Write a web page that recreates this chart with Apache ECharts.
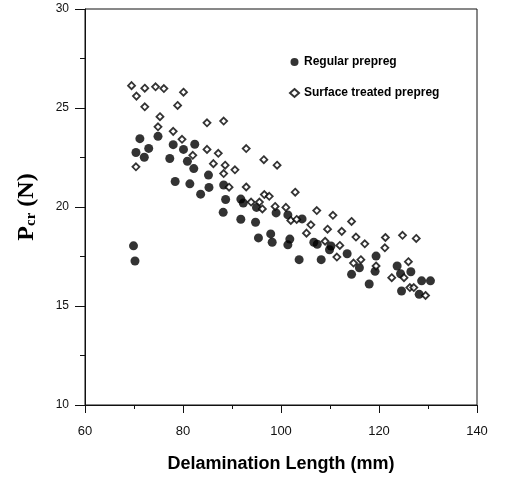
<!DOCTYPE html>
<html><head><meta charset="utf-8">
<script src="https://cdn.jsdelivr.net/npm/echarts@6/dist/echarts.min.js"></script>
<style>html,body{margin:0;padding:0;background:#fff}#c{width:509px;height:478px}</style>
</head><body><div id="c"></div>
<script>
const xTicks = [60, 80, 100, 120, 140];
const yTicks = [10, 15, 20, 25, 30];
const seriesNames = ['Regular prepreg', 'Surface treated prepreg'];
const regularPrepreg = [
[69.9,18.04],[70.2,17.27],[70.4,22.75],[71.2,23.45],[72.1,22.51],[73.0,22.96],[74.9,23.57],[77.3,22.45],[78.0,23.15],[80.1,22.91],[82.4,23.17],[80.9,22.31],[82.2,21.94],[85.2,21.61],[78.4,21.29],[81.4,21.17],[83.6,20.65],[85.3,20.99],[88.3,21.11],[88.7,20.38],[88.2,19.73],[91.8,20.4],[92.3,20.2],[91.8,19.38],[94.8,19.23],[95.0,19.98],[95.4,18.44],[97.9,18.64],[98.2,18.22],[99.0,19.7],[101.4,19.6],[101.8,18.38],[101.4,18.09],[104.3,19.4],[103.7,17.34],[106.7,18.22],[107.4,18.12],[108.2,17.34],[110.2,18.03],[109.9,17.84],[113.5,17.64],[119.4,17.52],[116.0,16.93],[114.4,16.6],[119.2,16.75],[118.0,16.11],[123.7,17.02],[124.4,16.63],[126.5,16.73],[124.6,15.76],[128.2,15.59],[128.7,16.27],[130.5,16.27]
];
const surfaceTreatedPrepreg = [
[69.5,26.13],[70.5,25.6],[72.2,26.0],[74.4,26.07],[76.1,25.98],[72.2,25.06],[80.1,25.8],[78.9,25.13],[75.3,24.56],[74.9,24.05],[84.9,24.25],[88.3,24.34],[78.0,23.82],[79.8,23.42],[70.4,22.03],[82.0,22.61],[84.9,22.91],[87.2,22.71],[86.2,22.19],[88.6,22.11],[90.6,21.88],[88.3,21.69],[92.9,22.95],[96.5,22.39],[99.2,22.11],[92.9,21.01],[89.4,21.0],[96.6,20.63],[97.6,20.54],[98.8,20.03],[93.9,20.25],[95.6,20.25],[96.2,19.9],[102.9,20.75],[101.0,19.98],[102.0,19.32],[103.2,19.37],[107.3,19.82],[110.6,19.58],[106.1,19.10],[105.2,18.68],[109.5,18.88],[112.4,18.77],[114.4,19.27],[115.3,18.48],[109.0,18.27],[112.0,18.06],[117.1,18.14],[121.3,18.46],[124.8,18.57],[127.6,18.41],[121.2,17.94],[111.4,17.47],[114.8,17.17],[116.3,17.34],[119.4,17.02],[126.0,17.24],[122.6,16.43],[125.1,16.43],[126.3,15.93],[127.1,15.93],[129.5,15.53]
];
const chart = echarts.init(document.getElementById('c'), null, {renderer:'canvas'});
chart.setOption({
  animation:false,
  backgroundColor:'#fff',
  grid:{left:85, right:32, top:9, bottom:71, show:true, borderColor:'#111', borderWidth:1},
  legend:{
    orient:'vertical', left:284, top:51, itemGap:19, itemWidth:9, itemHeight:8,
    data:[{name:seriesNames[0], icon:'circle'},{name:seriesNames[1], icon:'diamond'}],
    textStyle:{fontFamily:'Liberation Sans, Arial', fontWeight:'bold', fontSize:12, color:'#000'}
  },
  xAxis:{
    type:'value', min:xTicks[0], max:xTicks[xTicks.length-1], interval:20,
    name:'Delamination Length (mm)', nameLocation:'middle', nameGap:50,
    nameTextStyle:{fontFamily:'Liberation Sans, Arial', fontWeight:'bold', fontSize:18, color:'#000'},
    axisLine:{lineStyle:{color:'#111', width:1}},
    axisTick:{show:true, length:8, lineStyle:{color:'#111'}},
    minorTick:{show:true, splitNumber:2, length:4, lineStyle:{color:'#111'}},
    axisLabel:{fontFamily:'Liberation Sans, Arial', fontSize:13, color:'#111', margin:20},
    splitLine:{show:false}
  },
  yAxis:{
    type:'value', min:yTicks[0], max:yTicks[yTicks.length-1], interval:5,
    name:'{a|P}{b|cr}{a| (N)}', nameLocation:'middle', nameGap:46, nameRotate:90,
    nameTextStyle:{rich:{
      a:{fontFamily:'Liberation Serif, Times New Roman', fontWeight:'bold', fontSize:24, color:'#000'},
      b:{fontFamily:'Liberation Serif, Times New Roman', fontWeight:'bold', fontSize:15, color:'#000', verticalAlign:'bottom', padding:[9,0,0,0]}
    }},
    axisLine:{show:true, lineStyle:{color:'#111', width:1}},
    axisTick:{show:true, length:10, lineStyle:{color:'#111'}},
    minorTick:{show:true, splitNumber:2, length:5, lineStyle:{color:'#111'}},
    axisLabel:{fontFamily:'Liberation Sans, Arial', fontSize:12, color:'#111', margin:16},
    splitLine:{show:false}
  },
  series:[
    {name:seriesNames[0], type:'scatter', symbol:'circle', symbolSize:9, data:regularPrepreg,
     itemStyle:{color:'#000'}},
    {name:seriesNames[1], type:'scatter', symbol:'diamond', symbolSize:7, data:surfaceTreatedPrepreg,
     itemStyle:{color:'#fff', borderColor:'#000', borderWidth:1.8}}
  ]
});
</script></body></html>
